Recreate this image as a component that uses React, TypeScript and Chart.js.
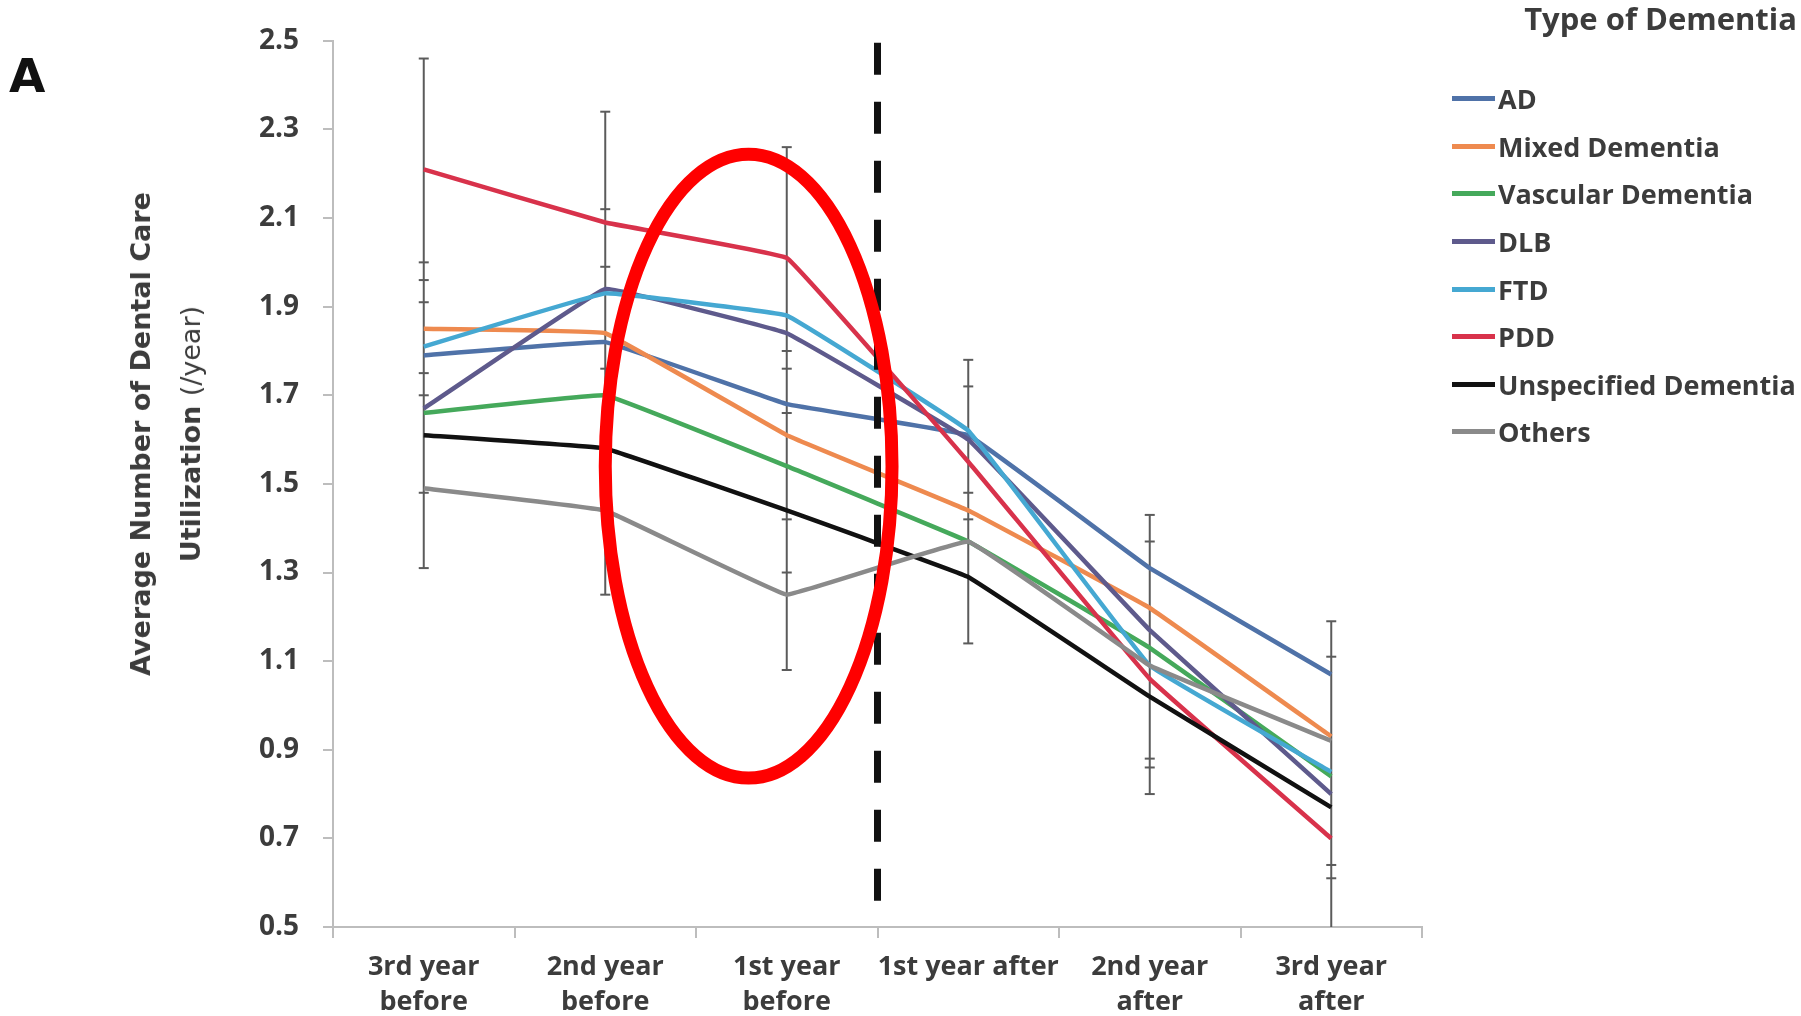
import { useEffect, useRef } from "react";
import { Chart, registerables, type Plugin } from "chart.js";

Chart.register(...registerables);

// categories (x axis)
const periods: Array<string | string[]> = [
  ["3rd year", "before"],
  ["2nd year", "before"],
  ["1st year", "before"],
  "1st year after",
  ["2nd year", "after"],
  ["3rd year", "after"],
];

// average dental care visits per year
const adValues = [1.79, 1.82, 1.68, 1.61, 1.31, 1.07];
const mixedValues = [1.85, 1.84, 1.61, 1.44, 1.22, 0.93];
const vascularValues = [1.66, 1.7, 1.54, 1.37, 1.13, 0.84];
const dlbValues = [1.67, 1.94, 1.84, 1.6, 1.17, 0.8];
const ftdValues = [1.81, 1.93, 1.88, 1.62, 1.09, 0.85];
const pddValues = [2.21, 2.09, 2.01, 1.55, 1.06, 0.7];
const unspecifiedValues = [1.61, 1.58, 1.44, 1.29, 1.02, 0.77];
const othersValues = [1.49, 1.44, 1.25, 1.37, 1.09, 0.92];

const seriesNames = [
  "AD",
  "Mixed Dementia",
  "Vascular Dementia",
  "DLB",
  "FTD",
  "PDD",
  "Unspecified Dementia",
  "Others",
];
const seriesValues = [
  adValues,
  mixedValues,
  vascularValues,
  dlbValues,
  ftdValues,
  pddValues,
  unspecifiedValues,
  othersValues,
];
const seriesColors = [
  "#4f72a8",
  "#ee8a4f",
  "#45a95b",
  "#5e5a8c",
  "#45a8d2",
  "#d8324b",
  "#111111",
  "#8a8a8a",
];

// error bar envelope and cap positions per category
const errorHigh = [2.46, 2.34, 2.26, 1.78, 1.43, 1.19];
const errorLow = [1.31, 1.25, 1.08, 1.14, 0.8, 0.5];
const errorCaps = [
  [2.46, 2.0, 1.96, 1.91, 1.75, 1.7, 1.48, 1.31],
  [2.34, 2.12, 1.99, 1.76, 1.25],
  [2.26, 1.8, 1.76, 1.66, 1.42, 1.3, 1.08],
  [1.78, 1.72, 1.48, 1.42, 1.14],
  [1.43, 1.37, 0.88, 0.86, 0.8],
  [1.19, 1.11, 0.64, 0.61],
];

const yMin = 0.5;
const yMax = 2.5;
const yStep = 0.2;

// dashed divider between "1st year before" and "1st year after"
const dividerAfterIndex = 2;
const dividerTop = 2.5;
const dividerBottom = 0.556;

// red highlight ellipse (category index / value units)
const highlightCenterIndex = 1.79;
const highlightCenterValue = 1.54;
const highlightRadiusIndex = 0.79;
const highlightRadiusValue = 0.704;

const textColor = "#3c3c3c";
const axisColor = "#bdbdbd";

const errorBarPlugin: Plugin<"line"> = {
  id: "errorBars",
  beforeDatasetsDraw(chart) {
    const { ctx } = chart;
    const x = chart.scales.x;
    const y = chart.scales.y;
    ctx.save();
    ctx.strokeStyle = "#5b5b5b";
    ctx.lineWidth = 2;
    errorHigh.forEach((hi, i) => {
      const px = x.getPixelForValue(i);
      ctx.beginPath();
      ctx.moveTo(px, y.getPixelForValue(hi));
      ctx.lineTo(px, y.getPixelForValue(errorLow[i]));
      ctx.stroke();
      errorCaps[i].forEach((v) => {
        const py = y.getPixelForValue(v);
        ctx.beginPath();
        ctx.moveTo(px - 5, py);
        ctx.lineTo(px + 5, py);
        ctx.stroke();
      });
    });
    ctx.restore();
  },
};

const overlayPlugin: Plugin<"line"> = {
  id: "overlay",
  afterDatasetsDraw(chart) {
    const { ctx } = chart;
    const x = chart.scales.x;
    const y = chart.scales.y;
    ctx.save();

    // divider
    const dx =
      (x.getPixelForValue(dividerAfterIndex) +
        x.getPixelForValue(dividerAfterIndex + 1)) /
      2;
    ctx.strokeStyle = "#111";
    ctx.lineWidth = 7;
    ctx.setLineDash([32, 27]);
    ctx.beginPath();
    ctx.moveTo(dx, y.getPixelForValue(dividerTop) + 2);
    ctx.lineTo(dx, y.getPixelForValue(dividerBottom));
    ctx.stroke();
    ctx.setLineDash([]);

    // highlight
    const cx = x.getPixelForValue(highlightCenterIndex);
    const cy = y.getPixelForValue(highlightCenterValue);
    const rx = Math.abs(
      x.getPixelForValue(highlightCenterIndex + highlightRadiusIndex) - cx,
    );
    const ry = Math.abs(
      y.getPixelForValue(highlightCenterValue + highlightRadiusValue) - cy,
    );
    ctx.strokeStyle = "#ff0000";
    ctx.lineWidth = 13;
    ctx.beginPath();
    ctx.ellipse(cx, cy, rx, ry, 0, 0, Math.PI * 2);
    ctx.stroke();

    ctx.restore();
  },
};

export default function App() {
  const canvasRef = useRef<HTMLCanvasElement | null>(null);
  const chartRef = useRef<Chart | null>(null);

  useEffect(() => {
    if (!canvasRef.current) return;
    chartRef.current?.destroy();

    chartRef.current = new Chart(canvasRef.current, {
      type: "line",
      data: {
        labels: periods,
        datasets: seriesNames.map((name, i) => ({
          label: name,
          data: seriesValues[i],
          borderColor: seriesColors[i],
          backgroundColor: seriesColors[i],
          borderWidth: 4.5,
          tension: 0.05,
          pointRadius: 0,
          fill: false,
          order: seriesNames.length - i,
        })),
      },
      options: {
        animation: false,
        responsive: true,
        maintainAspectRatio: false,
        layout: { padding: { left: 0, right: 379, top: 38, bottom: 0 } },
        plugins: {
          legend: { display: false },
          tooltip: { enabled: false },
        },
        scales: {
          x: {
            type: "category",
            offset: true,
            grid: {
              offset: true,
              drawOnChartArea: false,
              tickLength: 11,
              color: axisColor,
              lineWidth: 2,
            },
            border: { color: axisColor, width: 2 },
            ticks: {
              color: textColor,
              autoSkip: false,
              maxRotation: 0,
              padding: 12,
              font: {
                family: "Open Sans",
                weight: "bold",
                size: 27,
                lineHeight: 1.3,
              },
            },
            afterFit: (scale) => {
              scale.height = 89;
            },
          },
          y: {
            min: yMin,
            max: yMax,
            grid: {
              drawOnChartArea: false,
              tickLength: 10,
              color: axisColor,
              lineWidth: 2,
            },
            border: { color: axisColor, width: 2 },
            ticks: {
              stepSize: yStep,
              color: textColor,
              padding: 24,
              callback: (v) => Number(v).toFixed(1),
              font: { family: "Open Sans", weight: "bold", size: 28 },
            },
            afterFit: (scale) => {
              scale.width = 333;
            },
          },
        },
      },
      plugins: [errorBarPlugin, overlayPlugin],
    });

    return () => {
      chartRef.current?.destroy();
      chartRef.current = null;
    };
  }, []);

  return (
    <div
      style={{
        position: "fixed",
        left: 0,
        top: 0,
        width: 1801,
        height: 1016,
        background: "#fff",
        overflow: "hidden",
      }}
    >
      <canvas
        ref={canvasRef}
        style={{ position: "absolute", left: 0, top: 0 }}
      />

      <div
        style={{
          position: "absolute",
          left: 9,
          top: 52,
          font: "bold 47px 'DejaVu Sans'",
          lineHeight: "47px",
          color: "#111",
        }}
      >
        A
      </div>

      <div
        style={{
          position: "absolute",
          left: 166,
          top: 434,
          transform: "translate(-50%, -50%) rotate(-90deg)",
          whiteSpace: "nowrap",
          textAlign: "center",
          font: "bold 27px 'DejaVu Sans'",
          lineHeight: "50px",
          color: textColor,
        }}
      >
        Average Number of Dental Care
        <br />
        Utilization <span style={{ fontWeight: "normal" }}>(/year)</span>
      </div>

      <div
        style={{
          position: "absolute",
          right: 4,
          top: 3,
          font: "bold 31px 'Open Sans'",
          lineHeight: "31px",
          color: textColor,
          whiteSpace: "nowrap",
        }}
      >
        Type of Dementia
      </div>

      <div style={{ position: "absolute", left: 1452, top: 75 }}>
        {seriesNames.map((name, i) => (
          <div
            key={name}
            style={{
              display: "flex",
              alignItems: "center",
              height: 47.6,
              whiteSpace: "nowrap",
            }}
          >
            <span
              style={{
                display: "inline-block",
                width: 43,
                height: 5,
                marginRight: 3,
                background: seriesColors[i],
              }}
            />
            <span
              style={{
                font: "bold 27px 'Open Sans'",
                color: textColor,
              }}
            >
              {name}
            </span>
          </div>
        ))}
      </div>
    </div>
  );
}
